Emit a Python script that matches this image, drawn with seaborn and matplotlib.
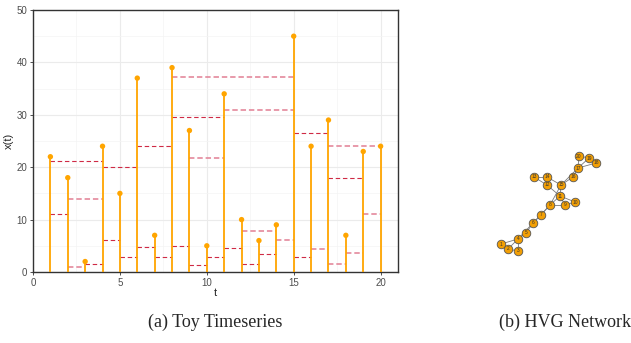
import numpy as np
import pandas as pd
import matplotlib
matplotlib.use("Agg")
import matplotlib.pyplot as plt
import seaborn as sns

# ---- data ----
t_values = list(range(1, 21))
x_values = [22, 18, 2, 24, 15, 37, 7, 39, 27, 5, 34, 10, 6, 9, 45, 24, 29, 7, 23, 24]

edge_src = [1, 1, 2, 2, 3, 4, 4, 5, 6, 6, 7, 8, 8, 8, 9, 9, 10, 11, 11, 12, 12, 13, 14, 15, 15, 16, 17, 17, 17, 18, 19]
edge_dst = [2, 4, 3, 4, 4, 5, 6, 6, 7, 8, 8, 9, 11, 15, 10, 11, 11, 12, 15, 13, 14, 14, 15, 16, 17, 17, 18, 19, 20, 19, 20]
edge_height = [11, 21.1, 0.9, 14, 1.5, 6.2, 20, 2.8, 4.7, 24, 2.8, 4.9, 29.5, 37.3, 1.4, 21.8, 2.8,
               4.5, 31, 1.5, 7.8, 3.5, 6.2, 2.8, 26.5, 4.4, 1.5, 18, 24.1, 3.6, 11]
edge_light = [0, 0, 1, 1, 0, 0, 0, 0, 0, 0, 0, 0, 0, 1, 0, 1, 0,
              0, 1, 0, 1, 0, 1, 0, 0, 1, 1, 0, 1, 1, 1]

node_labels = [str(i) for i in range(1, 21)]
node_x = [501, 508, 518, 518, 526, 533, 541, 550, 565, 575, 560, 547, 534, 547, 561, 573, 578, 596, 589, 579]
node_y = [244, 249, 251, 239, 233, 223, 215, 205, 205, 202, 196, 185, 177, 177, 185, 177, 168, 163, 158, 156]

captions = ["(a) Toy Timeseries", "(b) HVG Network"]

# ---- figure ----
sns.set_style("white")
plt.rcParams['font.family'] = ['Liberation Sans', 'DejaVu Sans']
W, H = 631, 343
fig = plt.figure(figsize=(W / 100, H / 100), dpi=100)

ax = fig.add_axes([33 / W, 1 - 272 / H, 365 / W, 262 / H])
ax.set_xlim(0, 21)
ax.set_ylim(0, 50)
ax.set_xticks([0, 5, 10, 15, 20])
ax.set_yticks([0, 10, 20, 30, 40, 50])
ax.set_xticks(np.arange(2.5, 21, 5), minor=True)
ax.set_yticks(np.arange(5, 50, 10), minor=True)
ax.grid(True, which="major", color="#ebebeb", lw=0.8)
ax.grid(True, which="minor", color="#f4f4f4", lw=0.5)
ax.set_axisbelow(True)
for s in ax.spines.values():
    s.set_color("#333333")
    s.set_linewidth(1.0)
ax.tick_params(axis="both", which="major", labelsize=7, labelcolor="#4d4d4d",
               length=2.5, width=0.6, color="#333333", pad=1.5, left=True, bottom=True)
ax.tick_params(axis="both", which="minor", length=0)

# dashed visibility edges
for s_, d_, h_, lt in zip(edge_src, edge_dst, edge_height, edge_light):
    if lt:
        ax.hlines(h_, s_, d_, colors="#e3869a", linestyles=(0, (3, 1.6)), lw=1.3, alpha=0.9, zorder=2)
    else:
        ax.hlines(h_, s_, d_, colors="#cf2a45", linestyles=(0, (4, 2.5)), lw=0.8, zorder=2)

df = pd.DataFrame({"t": t_values, "x": x_values})
ax.vlines(df["t"], 0, df["x"], colors="orange", lw=1.3, zorder=3)
sns.scatterplot(data=df, x="t", y="x", ax=ax, color="orange", s=15, edgecolor="none", zorder=4)
ax.set_xlabel("t", fontsize=8, labelpad=0)
ax.set_ylabel("x(t)", fontsize=8, labelpad=2)

# ---- network ----
ax2 = fig.add_axes([480 / W, 1 - 270 / H, 140 / W, 130 / H])
ax2.set_xlim(480, 620)
ax2.set_ylim(270, 140)
ax2.axis("off")
for s_, d_ in zip(edge_src, edge_dst):
    ax2.plot([node_x[s_ - 1], node_x[d_ - 1]], [node_y[s_ - 1], node_y[d_ - 1]],
             color="#7a7a7a", lw=0.6, zorder=1)
ndf = pd.DataFrame({"x": node_x, "y": node_y, "label": node_labels})
sns.scatterplot(data=ndf, x="x", y="y", ax=ax2, color="#f29f05", s=38,
                edgecolor="#555555", linewidth=0.6, zorder=3)
for xx, yy, lab in zip(node_x, node_y, node_labels):
    ax2.text(xx, yy, lab, fontsize=3.5, ha="center", va="center", color="#333333", zorder=4)
ax2.set_xlabel("")
ax2.set_ylabel("")

# captions
fig.text(215 / W, 1 - 322 / H, captions[0], ha="center", va="center",
         fontsize=13, family="Liberation Serif")
fig.text(565 / W, 1 - 322 / H, captions[1], ha="center", va="center",
         fontsize=13, family="Liberation Serif")

fig.savefig("out.png", dpi=100)
